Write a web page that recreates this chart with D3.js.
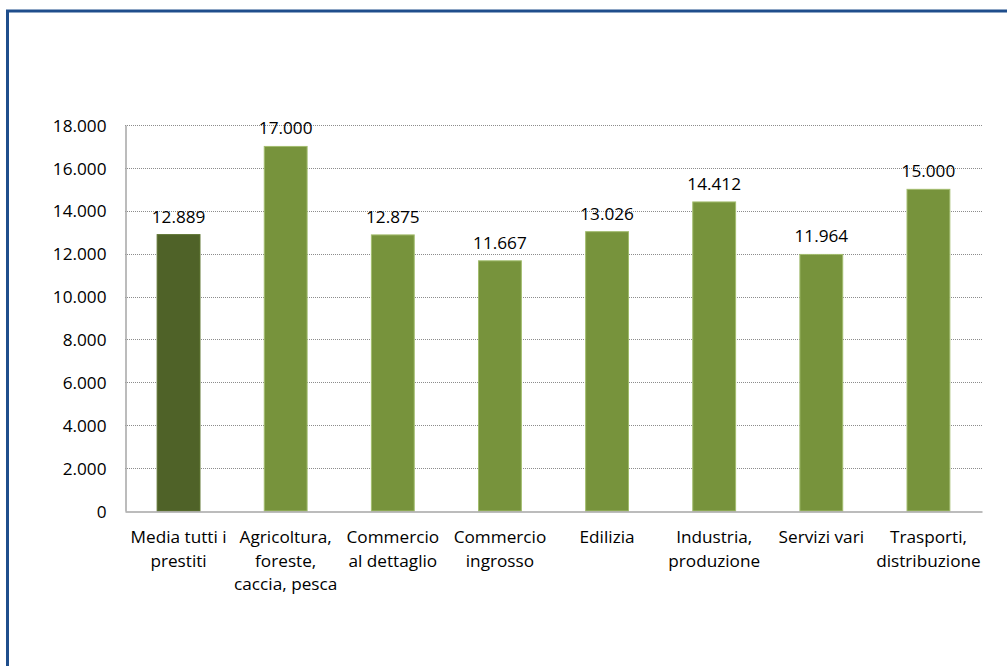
<!DOCTYPE html>
<html><head><meta charset="utf-8">
<script src="https://cdn.jsdelivr.net/npm/d3@7"></script>
<style>html,body{margin:0;padding:0;background:#fff;}svg{display:block;}</style>
</head><body>
<script>
const categories = [
  ["Media tutti i", "prestiti"],
  ["Agricoltura,", "foreste,", "caccia, pesca"],
  ["Commercio", "al dettaglio"],
  ["Commercio", "ingrosso"],
  ["Edilizia"],
  ["Industria,", "produzione"],
  ["Servizi vari"],
  ["Trasporti,", "distribuzione"]
];
const values = [12889, 17000, 12875, 11667, 13026, 14412, 11964, 15000];
const tickValues = [0, 2000, 4000, 6000, 8000, 10000, 12000, 14000, 16000, 18000];
const barColors = ["#4f6228", "#77933c", "#77933c", "#77933c", "#77933c", "#77933c", "#77933c", "#77933c"];

(function () {
const W = 1007, H = 666;
const fmt = v => d3.format(",")(v).replace(/,/g, ".");
const font = "'Open Sans', Lato, sans-serif";
const fs = 17.2;

const svg = d3.select("body").append("svg").attr("width", W).attr("height", H);
svg.append("rect").attr("x", 7.5).attr("y", 11).attr("width", 1200).attr("height", 1200)
  .attr("fill", "none").attr("stroke", "#1f4e8c").attr("stroke-width", 3);

const pL = 125, pR = 982, pT = 125, pB = 511;
const x = d3.scaleBand().domain(d3.range(categories.length)).range([pL, pR]).paddingInner(0.6).paddingOuter(0.3);
const y = d3.scaleLinear().domain([0, 18000]).range([pB, pT]);

// gridlines
svg.append("g").selectAll("line").data(tickValues.filter(d => d > 0)).join("line")
  .attr("x1", pL).attr("x2", pR)
  .attr("y1", d => Math.round(y(d)) + 0.5).attr("y2", d => Math.round(y(d)) + 0.5)
  .attr("stroke", "#8c8c8c").attr("stroke-width", 1).attr("stroke-dasharray", "1,1");

// y axis
const yAxis = d3.axisLeft(y).tickValues(tickValues).tickFormat(fmt).tickSize(0).tickPadding(19);
const gy = svg.append("g").attr("transform", `translate(${pL + 0.5},0)`).call(yAxis);
gy.select(".domain").attr("stroke", "#a6a6a6").attr("stroke-width", 1.5);
gy.selectAll("text").attr("font-family", font).attr("font-size", fs).attr("fill", "#000").attr("dy", "0.36em");

// bars
svg.append("g").selectAll("rect").data(values).join("rect")
  .attr("x", (d, i) => x(i)).attr("width", x.bandwidth())
  .attr("y", d => y(d)).attr("height", d => pB - y(d))
  .attr("fill", (d, i) => barColors[i])
  .attr("stroke", (d, i) => i === 0 ? "#5f7532" : "#a3bd6f").attr("stroke-width", 1);

// x axis
const gx = svg.append("g").attr("transform", `translate(0,${pB + 0.5})`)
  .call(d3.axisBottom(x).tickSize(0).tickFormat(""));
gx.select(".domain").attr("stroke", "#a6a6a6").attr("stroke-width", 1.5);

// category labels
const cl = svg.append("g").selectAll("text").data(categories).join("text")
  .attr("x", (d, i) => x(i) + x.bandwidth() / 2).attr("y", 543)
  .attr("text-anchor", "middle").attr("font-family", font).attr("font-size", fs).attr("fill", "#000");
cl.selectAll("tspan").data(d => d).join("tspan")
  .attr("x", function () { return this.parentNode.getAttribute("x"); })
  .attr("dy", (d, j) => j === 0 ? 0 : 23.5).text(d => d);

// value labels
svg.append("g").selectAll("text").data(values).join("text")
  .attr("x", (d, i) => x(i) + x.bandwidth() / 2).attr("y", d => y(d) - 12)
  .attr("text-anchor", "middle").attr("font-family", font).attr("font-size", fs).attr("fill", "#000")
  .text(d => fmt(d));
})();
</script>
</body></html>
